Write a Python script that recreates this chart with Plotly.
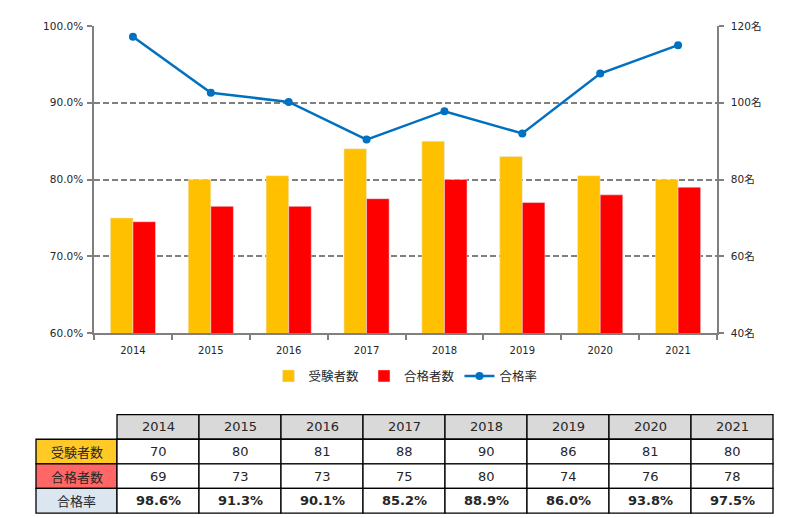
import plotly.graph_objects as go

years = ["2014", "2015", "2016", "2017", "2018", "2019", "2020", "2021"]
examinees = [70, 80, 81, 88, 90, 86, 81, 80]
passers = [69, 73, 73, 75, 80, 74, 76, 78]
pass_rate = [98.6, 91.3, 90.1, 85.2, 88.9, 86.0, 93.8, 97.5]
count_ticks = [40, 60, 80, 100, 120]
rate_ticks = [60, 70, 80, 90, 100]
row_labels = ["受験者数", "合格者数", "合格率"]

OFF = 8  # page body margin
W, H = 809 - OFF, 518 - OFF
PL, PR, PT, PB = 94, 717, 21, 333  # plot area in page pixels
L, R, T, B = PL - OFF, (809 - PR), PT - OFF, (518 - PB)
PW, PH = PR - PL, PB - PT

def px(x):
    return (x - PL) / PW

def py(y):
    return (PB - y) / PH

AX = "#808080"
TXT = "#262626"
FONT = "DejaVu Sans, Noto Sans CJK JP, sans-serif"
JFONT = "Noto Sans CJK JP, DejaVu Sans, sans-serif"

fig = go.Figure()
fig.add_trace(go.Bar(x=years, y=examinees, name="受験者数", marker_color="#FFC000",
                     yaxis="y", xaxis="x"))
fig.add_trace(go.Bar(x=years, y=passers, name="合格者数", marker_color="#FF0000",
                     yaxis="y", xaxis="x"))
fig.add_trace(go.Scatter(x=years, y=[v / 100 for v in pass_rate], name="合格率",
                         mode="lines+markers", yaxis="y2", xaxis="x",
                         line=dict(color="#0070C0", width=2.5),
                         marker=dict(color="#0070C0", size=8)))

fig.update_layout(
    width=W, height=H,
    margin=dict(l=L, r=R, t=T, b=B, pad=0),
    paper_bgcolor="white", plot_bgcolor="white",
    barmode="group", bargap=0.42, bargroupgap=0,
    font=dict(family=FONT, size=10, color=TXT),
    showlegend=True,
    legend=dict(orientation="h", x=0.5, xanchor="center", y=py(377), yanchor="middle",
                font=dict(family=JFONT, size=12.5, color=TXT), itemwidth=30),
    xaxis=dict(type="category", range=[-0.5, 7.5], tickson="boundaries", ticks="outside",
               ticklen=5, tickcolor=AX, tickwidth=1.5, showline=True, linecolor=AX,
               linewidth=1.5, showgrid=False, ticklabelstandoff=7,
               tickfont=dict(family=FONT, size=10, color=TXT)),
    yaxis=dict(side="right", range=[40, 120], tickvals=count_ticks,
               ticktext=[f"{v}名" for v in count_ticks], showgrid=True, gridcolor=AX,
               gridwidth=2.2, griddash="6px,3px", zeroline=False, showline=True,
               linecolor=AX, linewidth=1.5, ticks="outside", ticklen=5, tickcolor=AX,
               tickwidth=1.5, ticklabelstandoff=5,
               tickfont=dict(family=FONT, size=10.5, color=TXT)),
    yaxis2=dict(side="left", overlaying="y", range=[0.6, 1.0],
                tickvals=[v / 100 for v in rate_ticks], tickformat=".1%",
                showgrid=False, zeroline=False, showline=True, linecolor=AX,
                linewidth=1.5, ticks="outside", ticklen=5, tickcolor=AX, tickwidth=1.5,
                ticklabelstandoff=2,
                tickfont=dict(family=FONT, size=10.5, color=TXT)),
)

# ---- data table below the chart (page pixel coordinates) ----
tx0, lab_w, col_w = 36, 81, 82
ty0, row_h = 416, 25
label_fills = ["#FFC926", "#FF6666", "#DCE6F1"]
shapes = []
annotations = []

def cell(x0, y0, x1, y1, fill):
    shapes.append(dict(type="rect", xref="paper", yref="paper",
                       x0=px(x0), x1=px(x1), y0=py(y0), y1=py(y1),
                       fillcolor=fill, line=dict(color="black", width=1.3), layer="above"))

def text(xc, yc, s, size=13, bold=False, fam=FONT, color=TXT):
    annotations.append(dict(xref="paper", yref="paper", x=px(xc), y=py(yc), text=s,
                            showarrow=False, xanchor="center", yanchor="middle",
                            font=dict(family=fam, size=size, color=color,
                                      weight="bold" if bold else "normal")))

dx0 = tx0 + lab_w
for i, yr in enumerate(years):
    x0 = dx0 + i * col_w
    cell(x0, ty0, x0 + col_w, ty0 + row_h, "#D9D9D9")
rows = [[str(v) for v in examinees], [str(v) for v in passers],
        [f"{v:.1f}%" for v in pass_rate]]
for r, lab in enumerate(row_labels):
    y0 = ty0 + (r + 1) * row_h
    cell(tx0, y0, dx0, y0 + row_h, label_fills[r])
    for i in range(len(years)):
        x0 = dx0 + i * col_w
        cell(x0, y0, x0 + col_w, y0 + row_h, "white")
for i, yr in enumerate(years):
    text(dx0 + i * col_w + col_w / 2, ty0 + row_h / 2, yr)
for r, lab in enumerate(row_labels):
    yc = ty0 + (r + 1) * row_h + row_h / 2
    text(tx0 + lab_w / 2, yc, lab, fam=JFONT)
    for i in range(len(years)):
        text(dx0 + i * col_w + col_w / 2, yc, rows[r][i], bold=(r == 2))

fig.update_layout(shapes=shapes, annotations=annotations)
fig.write_html("out.html")
